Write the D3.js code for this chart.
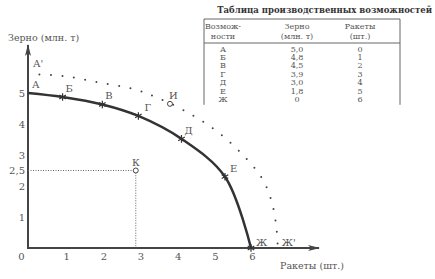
<!DOCTYPE html>
<html lang="ru">
<head>
<meta charset="UTF-8" />
<title>Кривая производственных возможностей</title>
<style>
  body { margin: 0; background: #fff; }
  svg { display: block; }
</style>
</head>
<body>
<div id="chart"></div>
<script src="https://cdn.jsdelivr.net/npm/d3@7"></script>
<script>
// table data
const tableLabels = ["А", "Б", "В", "Г", "Д", "Е", "Ж"];
const tableGrain = [5.0, 4.8, 4.5, 3.9, 3.0, 1.8, 0];
const tableRockets = [0, 1, 2, 3, 4, 5, 6];

// curve as drawn in the picture (rockets, grain)
const curveRockets = [0, 0.93, 2, 2.97, 4.13, 5.3, 6];
const curveGrain = [5, 4.87, 4.63, 4.26, 3.52, 2.3, 0];

// outer dotted curve А' .. Ж'
const outerRockets = [0, 0.94, 1.88, 2.82, 3.44, 4.27, 5.03, 5.70, 6.29, 6.56, 6.69, 6.72];
const outerGrain = [5.61, 5.55, 5.35, 5.13, 4.87, 4.39, 3.81, 3.10, 2.26, 1.48, 0.58, 0];

// extra points
const pointK = [2.9, 2.5];
const pointI = [3.82, 4.65];

const xTicks = [0, 1, 2, 3, 4, 5, 6];
const yTicks = [1, 2, 2.5, 3, 4, 5];

const FONT = "DejaVu Serif, Liberation Serif, serif";
const width = 435, height = 279;
const x = d3.scaleLinear([0, 6], [28, 251]);
const y = d3.scaleLinear([0, 5], [248, 93]);
const comma = v => v === 0 ? "0" : v.toFixed(1).replace(".", ",");

const svg = d3.select("#chart").append("svg")
    .attr("width", width)
    .attr("height", height)
    .attr("viewBox", [0, 0, width, height])
    .attr("font-family", FONT)
    .attr("fill", "#555");

svg.append("defs").append("marker")
    .attr("id", "arrow")
    .attr("viewBox", "0 0 12 6")
    .attr("refX", 11).attr("refY", 3)
    .attr("markerWidth", 12).attr("markerHeight", 6)
    .attr("markerUnits", "userSpaceOnUse")
    .attr("orient", "auto")
  .append("path")
    .attr("d", "M0,0L12,3L0,6L3,3Z")
    .attr("fill", "#444");

// axes
svg.append("line")
    .attr("x1", x(0)).attr("y1", y(0))
    .attr("x2", x(0)).attr("y2", 45)
    .attr("stroke", "#444").attr("stroke-width", 2)
    .attr("marker-end", "url(#arrow)");
svg.append("line")
    .attr("x1", x(0) - 1).attr("y1", y(0))
    .attr("x2", 319).attr("y2", y(0))
    .attr("stroke", "#444").attr("stroke-width", 2)
    .attr("marker-end", "url(#arrow)");

svg.append("g")
    .attr("transform", `translate(0,${y(0)})`)
    .call(d3.axisBottom(x).tickValues(xTicks).tickSize(0).tickPadding(5).tickFormat(d => d))
    .attr("font-family", FONT).attr("font-size", 10)
    .call(g => g.select(".domain").remove())
    .call(g => g.selectAll(".tick text")
        .attr("fill", "#555")
        .attr("dx", d => d === 0 ? -7 : 1));

svg.append("g")
    .attr("transform", `translate(${x(0)},0)`)
    .call(d3.axisLeft(y).tickValues(yTicks).tickSize(0).tickPadding(3).tickFormat(d => String(d).replace(".", ",")))
    .attr("font-family", FONT).attr("font-size", 10)
    .call(g => g.select(".domain").remove())
    .call(g => g.selectAll(".tick text").attr("fill", "#555"));

svg.append("text").attr("x", 8).attr("y", 41).attr("font-size", 9.5).text("Зерно (млн. т)");
svg.append("text").attr("x", 280).attr("y", 269).attr("font-size", 9.5).text("Ракеты (шт.)");

// point K guides
svg.append("path")
    .attr("d", `M${x(0)},${y(pointK[1])}H${x(pointK[0])}V${y(0)}`)
    .attr("fill", "none").attr("stroke", "#666")
    .attr("stroke-width", 1).attr("stroke-dasharray", "1,1.5");

// outer dotted curve
const outer = d3.range(outerRockets.length).map(i => [outerRockets[i], outerGrain[i]]);
svg.append("path")
    .datum(outer)
    .attr("d", d3.line(d => x(d[0]), d => y(d[1])).curve(d3.curveCatmullRom.alpha(0.5)))
    .attr("fill", "none").attr("stroke", "#444")
    .attr("stroke-width", 2).attr("stroke-linecap", "round")
    .attr("stroke-dasharray", "0,11.5");

// main curve
const curve = d3.range(curveRockets.length).map(i => [curveRockets[i], curveGrain[i]]);
svg.append("path")
    .datum(curve)
    .attr("d", d3.line(d => x(d[0]), d => y(d[1])).curve(d3.curveCatmullRom.alpha(0.5)))
    .attr("fill", "none").attr("stroke", "#333").attr("stroke-width", 2.5);

svg.append("g")
  .selectAll("path")
  .data(curve.slice(1))
  .join("path")
    .attr("transform", d => `translate(${x(d[0])},${y(d[1])})`)
    .attr("d", d3.symbol(d3.symbolAsterisk, 40))
    .attr("fill", "none").attr("stroke", "#333").attr("stroke-width", 1.2);

// point labels
svg.append("g")
    .attr("font-size", 10)
  .selectAll("text")
  .data(curve.slice(0, 6))
  .join("text")
    .attr("x", (d, i) => x(d[0]) + (i === 0 ? 4 : i === 3 ? 6 : i === 5 ? 5 : 3))
    .attr("y", d => y(d[1]) - 5)
    .text((d, i) => tableLabels[i]);

svg.append("text").attr("font-size", 10)
    .attr("x", x(curve[6][0]) + 5).attr("y", y(0) - 2).text("Ж");
svg.append("text").attr("font-size", 10)
    .attr("x", x(outer[0][0]) + 5).attr("y", y(outer[0][1]) - 7).text("А'");
svg.append("text").attr("font-size", 10)
    .attr("x", x(outer[outer.length - 1][0]) + 4).attr("y", y(0) - 2).text("Ж'");

// K and И
svg.append("circle")
    .attr("cx", x(pointK[0])).attr("cy", y(pointK[1])).attr("r", 2.5)
    .attr("fill", "#fff").attr("stroke", "#444").attr("stroke-width", 1);
svg.append("text").attr("font-size", 10).attr("text-anchor", "middle")
    .attr("x", x(pointK[0])).attr("y", y(pointK[1]) - 5).text("К");
svg.append("circle")
    .attr("cx", x(pointI[0])).attr("cy", y(pointI[1])).attr("r", 2.5)
    .attr("fill", "#fff").attr("stroke", "#444").attr("stroke-width", 1);
svg.append("text").attr("font-size", 10)
    .attr("x", x(pointI[0]) - 1).attr("y", y(pointI[1]) - 5).text("И");

// table
const tLeft = 204, tRight = 400, tTop = 19, tHead = 43, rowH = 8.4;
const colX = [223, 297, 360];
svg.append("text")
    .attr("x", 432).attr("y", 13)
    .attr("text-anchor", "end")
    .attr("font-size", 8.5).attr("font-weight", "bold").attr("fill", "#333")
    .text("Таблица производственных возможностей");

const tBottom = tHead + rowH * tableLabels.length + 3;
svg.append("path")
    .attr("d", `M${tLeft},${tBottom}V${tTop}H${tRight}V${tBottom}M${tLeft},${tHead}H${tRight}`)
    .attr("fill", "none").attr("stroke", "#666").attr("stroke-width", 1);

const head = [["Возмож-", "ности"], ["Зерно", "(млн. т)"], ["Ракеты", "(шт.)"]];
const tg = svg.append("g").attr("font-size", 8).attr("text-anchor", "middle");
head.forEach((h, c) => {
  tg.append("text").attr("x", colX[c]).attr("y", 29).text(h[0]);
  tg.append("text").attr("x", colX[c]).attr("y", 39).text(h[1]);
});
tableLabels.forEach((lab, i) => {
  const ty = tHead + 8.5 + i * rowH;
  tg.append("text").attr("x", colX[0]).attr("y", ty).text(lab);
  tg.append("text").attr("x", colX[1]).attr("y", ty).text(comma(tableGrain[i]));
  tg.append("text").attr("x", colX[2]).attr("y", ty).text(tableRockets[i]);
});
</script>
</body>
</html>
